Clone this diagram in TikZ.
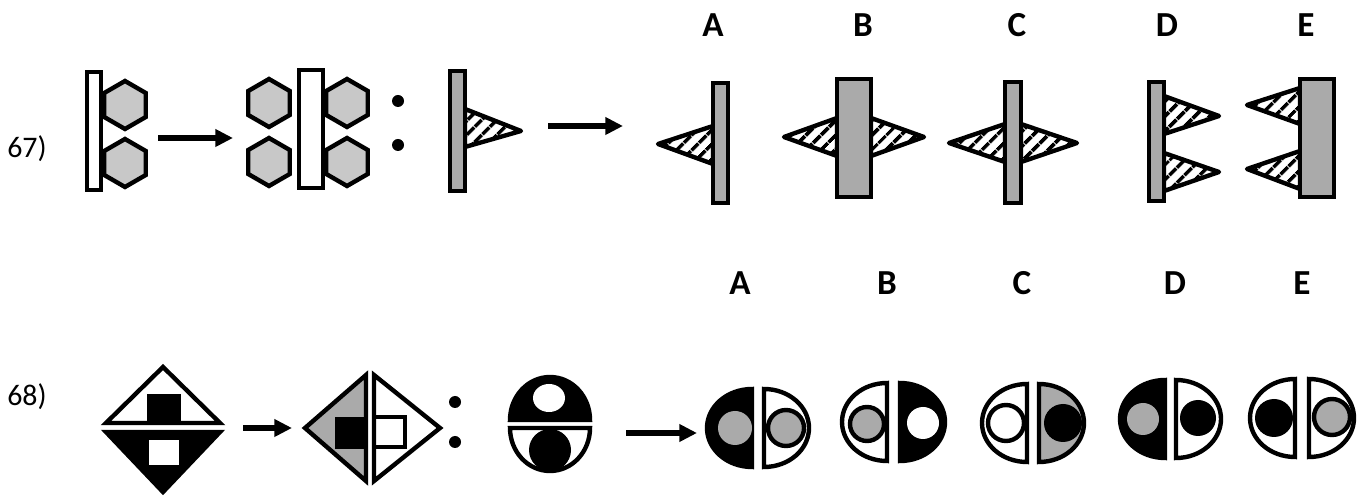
\documentclass[tikz,border=0pt]{standalone}
\usepackage{fontspec}
\setmainfont{Carlito}
\usetikzlibrary{arrows.meta,patterns.meta}
\definecolor{hexgray}{RGB}{200,200,200}
\definecolor{bargray}{RGB}{170,170,170}
\begin{document}
\begin{tikzpicture}[x=0.02cm,y=-0.02cm,line width=2.5pt,
  hexa/.style={draw,fill=hexgray},
  hatch/.style={draw,line join=round,pattern={Lines[angle=45,distance=6.5pt,line width=2.4pt]}},
  arr/.style={line width=2.9pt,-{Triangle[length=10pt,width=9.5pt]}},
  num/.style={font=\fontsize{17}{20}\selectfont},
  lab/.style={font=\fontsize{20}{24}\selectfont\bfseries}]
  \useasboundingbox (0,0) rectangle (1369,499);
  % ---------------- row 67 ----------------
  \node[num] (q67) at (27,149) {67)};
  \foreach \l/\x in {A/713,B/863,C/1017,D/1167,E/1306}
    \node[lab] (top\l) at (\x,25) {\l};
  % first figure: bar with two hexagons
  \draw[fill=white] (87,72) rectangle (101,190);
  \foreach \cx/\cy in {125/105,125/163}
    \draw[hexa] (\cx,\cy) +(90:24) -- +(150:24) -- +(210:24) -- +(270:24) -- +(330:24) -- +(30:24) -- cycle;
  % arrow
  \coordinate (a1s) at (158,138);
  \coordinate (a1e) at (233,138);
  \draw[arr] (a1s) -- (a1e);
  % second figure: wider bar with four hexagons
  \draw[fill=white] (299,70) rectangle (323,188);
  \foreach \cx/\cy in {269/103,269/162,347/103,347/162}
    \draw[hexa] (\cx,\cy) +(90:24) -- +(150:24) -- +(210:24) -- +(270:24) -- +(330:24) -- +(30:24) -- cycle;
  % colon
  \fill (398,101) circle[radius=6];
  \fill (398,145) circle[radius=6];
  % third figure: grey bar with hatched triangle
  \draw[hatch] (465,109) -- (521,131) -- (465,147) -- cycle;
  \draw[fill=bargray] (450,71) rectangle (465,191);
  % arrow
  \coordinate (a2s) at (548,126);
  \coordinate (a2e) at (623,126);
  \draw[arr] (a2s) -- (a2e);
  % option A
  \draw[hatch] (713,126) -- (658,144) -- (713,164) -- cycle;
  \draw[fill=bargray] (713,83) rectangle (728,203);
  % option B
  \draw[hatch] (837,118) -- (784,137) -- (837,156) -- cycle;
  \draw[hatch] (871,118) -- (924,137) -- (871,156) -- cycle;
  \draw[fill=bargray] (837,79) rectangle (871,197);
  % option C
  \draw[hatch] (1005,124) -- (949,143) -- (1005,162) -- cycle;
  \draw[hatch] (1021,124) -- (1077,143) -- (1021,162) -- cycle;
  \draw[fill=bargray] (1005,82) rectangle (1021,203);
  % option D
  \draw[hatch] (1164,96) -- (1219,116) -- (1164,134) -- cycle;
  \draw[hatch] (1164,153) -- (1219,172) -- (1164,191) -- cycle;
  \draw[fill=bargray] (1149,82) rectangle (1164,201);
  % option E
  \draw[hatch] (1300,88) -- (1247,105) -- (1300,124) -- cycle;
  \draw[hatch] (1300,151) -- (1247,169) -- (1300,189) -- cycle;
  \draw[fill=bargray] (1300,79) rectangle (1334,197);
  % ---------------- row 68 ----------------
  \node[num] (q68) at (27,397) {68)};
  \foreach \l/\x in {A/740,B/887,C/1022,D/1175,E/1302}
    \node[lab] (bot\l) at (\x,283) {\l};
  % first figure: split diamond
  \draw (163,367) -- (220,423) -- (106,423) -- cycle;
  \fill (147,394) rectangle (181,423);
  \draw[fill=black] (106,432) -- (220,432) -- (163,492) -- cycle;
  \draw[fill=white] (147,438) rectangle (181,467);
  % arrow
  \coordinate (a3s) at (243,428);
  \coordinate (a3e) at (292,428);
  \draw[arr] (a3s) -- (a3e);
  % second figure: diamond split left/right
  \draw[fill=bargray] (305,428) -- (366,375) -- (366,481) -- cycle;
  \fill (335,417) rectangle (366,449);
  \draw (374,375) -- (440,428) -- (374,481) -- cycle;
  \draw (374,417) rectangle (405,447);
  % colon
  \fill (455,402) circle[radius=6];
  \fill (455,442) circle[radius=6];
  % third figure: split oval
  \draw[fill=black] (510,420) arc[start angle=180,end angle=360,x radius=40,y radius=43] -- cycle;
  \fill[white] (549,398) ellipse[x radius=16,y radius=14];
  \draw[fill=white] (510,428) arc[start angle=180,end angle=0,x radius=40,y radius=43] -- cycle;
  \fill (550,450) circle[radius=21];
  % arrow
  \coordinate (a4s) at (626,433);
  \coordinate (a4e) at (697,433);
  \draw[arr] (a4s) -- (a4e);
  % option A
  \draw[fill=black] (752,389) arc[start angle=270,end angle=90,x radius=45,y radius=39] -- cycle;
  \fill[bargray] (735,428) circle[radius=17];
  \draw[fill=white] (764,389) arc[start angle=-90,end angle=90,x radius=45,y radius=39] -- cycle;
  \draw[fill=bargray] (786,428) circle[radius=18];
  % option B
  \draw[fill=white] (887,383) arc[start angle=270,end angle=90,x radius=45,y radius=39] -- cycle;
  \draw[fill=bargray] (867,424) circle[radius=17];
  \draw[fill=black] (900,383) arc[start angle=-90,end angle=90,x radius=45,y radius=39] -- cycle;
  \fill[white] (923,423) circle[radius=16];
  % option C
  \draw[fill=white] (1027,384) arc[start angle=270,end angle=90,x radius=45,y radius=39] -- cycle;
  \draw[fill=white] (1006,423) circle[radius=18];
  \draw[fill=bargray] (1039,384) arc[start angle=-90,end angle=90,x radius=45,y radius=39] -- cycle;
  \fill (1063,423) circle[radius=19];
  % option D
  \draw[fill=black] (1165,380) arc[start angle=270,end angle=90,x radius=45,y radius=39] -- cycle;
  \fill[bargray] (1143,419) circle[radius=16];
  \draw[fill=white] (1176,380) arc[start angle=-90,end angle=90,x radius=45,y radius=39] -- cycle;
  \fill (1198,418) circle[radius=18];
  % option E
  \draw[fill=white] (1295,379) arc[start angle=270,end angle=90,x radius=45,y radius=39] -- cycle;
  \fill (1274,418) circle[radius=19];
  \draw[fill=white] (1309,379) arc[start angle=-90,end angle=90,x radius=45,y radius=39] -- cycle;
  \draw[fill=bargray] (1332,417) circle[radius=18];
\end{tikzpicture}
\end{document}
